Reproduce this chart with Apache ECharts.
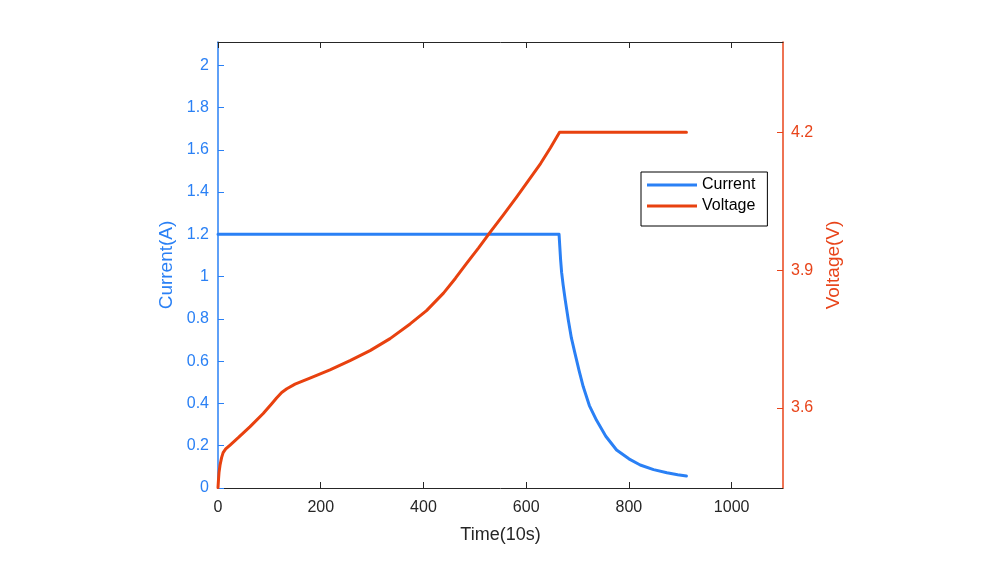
<!DOCTYPE html>
<html>
<head>
<meta charset="utf-8">
<script src="https://cdn.jsdelivr.net/npm/echarts@6/dist/echarts.min.js"></script>
<style>html,body{margin:0;padding:0;background:#fff}#c{width:1000px;height:571px}</style>
</head>
<body>
<div id="c"></div>
<script>
// Data
const currentData = [[0,1.2],[664,1.2],[665.5,1.14],[667,1.08],[669,1.02],[672,0.96],[676,0.89],[682,0.795],[688,0.71],[695,0.637],[703,0.555],[711,0.48],[723,0.39],[737,0.32],[755,0.245],[776,0.18],[800,0.138],[822,0.109],[848,0.087],[874,0.072],[895,0.063],[912,0.057]];
const voltageData = [[0,3.427],[1,3.445],[2,3.46],[4,3.476],[7,3.492],[10,3.503],[15,3.511],[23,3.519],[40,3.536],[62,3.559],[88,3.588],[105,3.61],[114,3.622],[124,3.634],[134,3.642],[150,3.652],[179,3.665],[218,3.683],[257,3.703],[296,3.725],[335,3.751],[374,3.783],[406,3.812],[439,3.85],[462,3.882],[484,3.915],[507,3.948],[530,3.983],[556,4.021],[582,4.06],[605,4.096],[628,4.132],[647,4.166],[665,4.2],[912,4.2]];
const xTicks = [0,200,400,600,800,1000];
const leftTicks = [0,0.2,0.4,0.6,0.8,1,1.2,1.4,1.6,1.8,2];
const rightTicks = [3.6,3.9,4.2];

const blue = '#2a80f5';
const red = '#e8410f';
const redAxis = '#e8441a';
const dark = '#262626';
const font = 'Liberation Sans, Arial, Helvetica, sans-serif';

const chart = echarts.init(document.getElementById('c'));
chart.setOption({
  animation: false,
  backgroundColor: '#fff',
  grid: {left: 218, right: 217, top: 42, bottom: 83, containLabel: false},
  legend: {
    data: ['Current','Voltage'],
    orient: 'vertical',
    left: 641, top: 172,
    icon: 'rect', itemWidth: 50, itemHeight: 3, itemGap: 5,
    padding: [5, 12, 12, 6],
    backgroundColor: '#fff', borderColor: '#000', borderWidth: 1,
    textStyle: {fontFamily: font, fontSize: 16, color: '#000', lineHeight: 16}
  },
  xAxis: [{
    type: 'value', min: 0, max: 1100, interval: 200,
    name: 'Time(10s)', nameLocation: 'middle', nameGap: 38,
    nameTextStyle: {fontFamily: font, fontSize: 18, color: dark},
    axisLine: {show: true, onZero: false, lineStyle: {color: dark, width: 1}},
    axisTick: {show: true, inside: true, length: 6, customValues: xTicks, lineStyle: {color: dark}},
    axisLabel: {customValues: xTicks, formatter: v => String(v), fontFamily: font, fontSize: 16, color: dark, margin: 12},
    splitLine: {show: false}
  }, {
    type: 'value', position: 'top', min: 0, max: 1100, interval: 200,
    axisLine: {show: true, onZero: false, lineStyle: {color: dark, width: 1}},
    axisTick: {show: true, inside: true, length: 6, customValues: xTicks, lineStyle: {color: dark}},
    axisLabel: {show: false},
    splitLine: {show: false}
  }],
  yAxis: [{
    type: 'value', position: 'left', min: 0, max: 2.11, interval: 0.2,
    name: 'Current(A)', nameLocation: 'middle', nameGap: 42, nameRotate: 90,
    nameTextStyle: {fontFamily: font, fontSize: 19, color: blue},
    axisLine: {show: true, onZero: false, lineStyle: {color: blue, width: 1.5}},
    axisTick: {show: true, inside: true, length: 6, customValues: leftTicks, lineStyle: {color: blue}},
    axisLabel: {customValues: leftTicks, formatter: v => String(v), fontFamily: font, fontSize: 16, color: blue, margin: 9},
    splitLine: {show: false}
  }, {
    type: 'value', position: 'right', min: 3.426, max: 4.3965, interval: 0.3,
    name: 'Voltage(V)', nameLocation: 'middle', nameGap: 38, nameRotate: 90,
    nameTextStyle: {fontFamily: font, fontSize: 19, color: redAxis},
    axisLine: {show: true, onZero: false, lineStyle: {color: redAxis, width: 1.5}},
    axisTick: {show: true, inside: true, length: 6, customValues: rightTicks, lineStyle: {color: redAxis}},
    axisLabel: {customValues: rightTicks, formatter: v => String(v), fontFamily: font, fontSize: 16, color: redAxis, margin: 8},
    splitLine: {show: false}
  }],
  series: [{
    name: 'Current', type: 'line', xAxisIndex: 0, yAxisIndex: 0,
    data: currentData, showSymbol: false, symbol: 'none', smooth: false,
    lineStyle: {color: blue, width: 3, join: 'round', cap: 'round'}, itemStyle: {color: blue}
  }, {
    name: 'Voltage', type: 'line', xAxisIndex: 0, yAxisIndex: 1,
    data: voltageData, showSymbol: false, symbol: 'none', smooth: false,
    lineStyle: {color: red, width: 3, join: 'round', cap: 'round'}, itemStyle: {color: red}
  }]
});
</script>
</body>
</html>
